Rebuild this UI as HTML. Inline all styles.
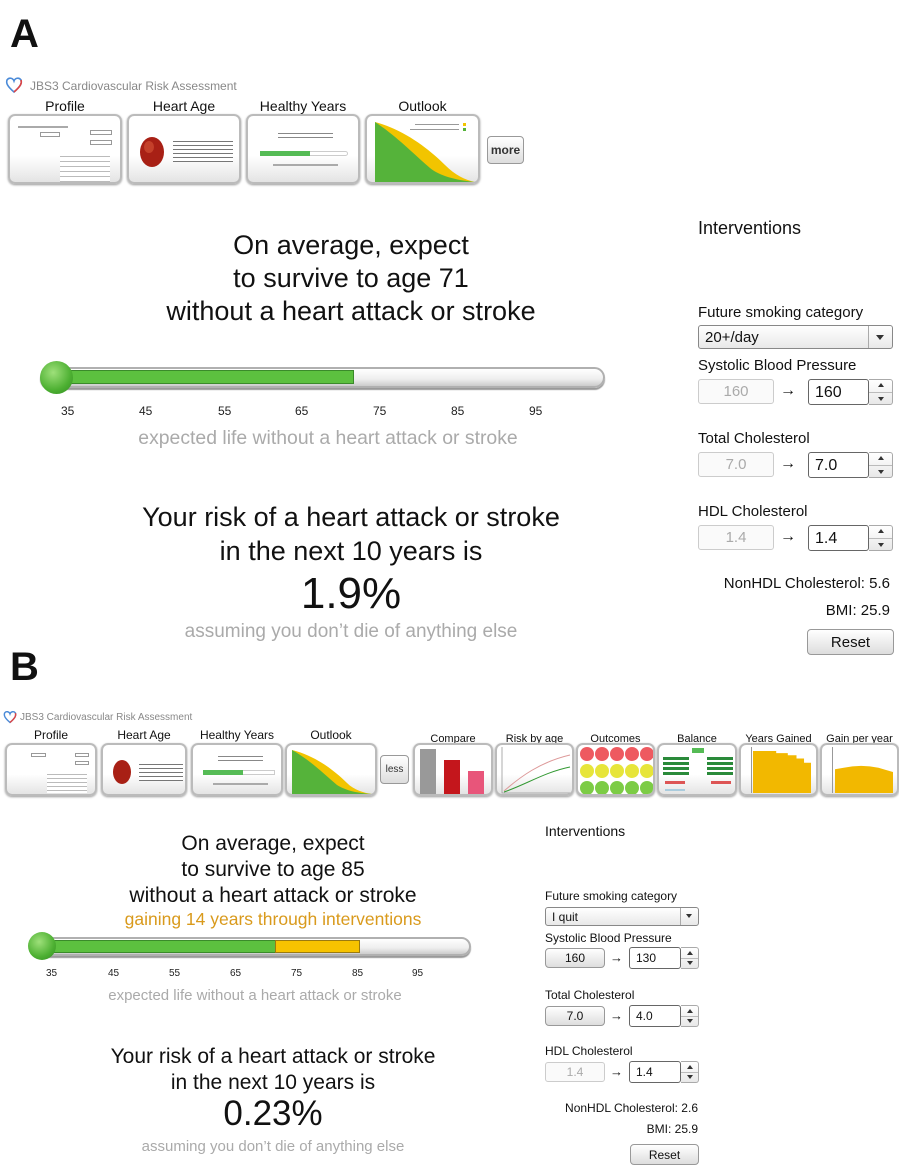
<!DOCTYPE html>
<html><head><meta charset="utf-8">
<style>
*{margin:0;padding:0;box-sizing:border-box}
body{width:899px;height:1166px;background:#fff;position:relative;overflow:hidden;font-family:"Liberation Sans",Arial,sans-serif;color:#111}
.a{position:absolute}
.c{position:absolute;text-align:center;white-space:nowrap;line-height:1}
.box{position:absolute;border:2px solid #bbb;border-radius:7px;background:linear-gradient(#fff 60%,#e4e4e4);box-shadow:0 1px 2px #999;overflow:hidden}
.in{position:absolute;border:1px solid #aaa;border-radius:3px;background:#fff;padding-left:6px}
.ghost{color:#aaa;text-align:center;padding:0;border-color:#ccc;background:#fafafa}
.btn{position:absolute;border:1px solid #999;border-radius:4px;background:linear-gradient(#fff,#ddd);text-align:center}
.spin{position:absolute;border:1px solid #aaa;border-left:none;border-radius:0 3px 3px 0;background:linear-gradient(#fff,#e8e8e8)}
.spin:after{content:"";position:absolute;left:0;right:0;top:50%;border-top:1px solid #bbb}
.spin i{position:absolute;left:50%;margin-left:-3px;border:3px solid transparent}
.spin i.u{top:3px;border-bottom:4px solid #333;border-top:none}
.spin i.d{bottom:3px;border-top:4px solid #333;border-bottom:none}
.tick{position:absolute;font-size:12px;color:#222}
</style></head><body>

<!-- ============ A ============ -->
<div class="a" style="left:10px;top:12px;font-size:40px;font-weight:bold">A</div>
<svg class="a" style="left:5px;top:76px" width="18" height="18" viewBox="0 0 18 18"><path d="M9 16 C2 10 1 7 2 4 C4 1 8 2 9 5 C10 2 14 1 16 4 C17 7 16 10 9 16Z" fill="none" stroke="#4a8ad8" stroke-width="1.6"/><path d="M9 16 C16 10 17 7 16 4" fill="none" stroke="#d44" stroke-width="1.6"/></svg>
<div class="a" style="left:30px;top:79px;font-size:12px;color:#888">JBS3 Cardiovascular Risk Assessment</div>

<div class="c" style="left:8px;width:114px;top:99px;font-size:14px">Profile</div>
<div class="c" style="left:127px;width:114px;top:99px;font-size:14px">Heart Age</div>
<div class="c" style="left:246px;width:114px;top:99px;font-size:14px">Healthy Years</div>
<div class="c" style="left:365px;width:115px;top:99px;font-size:14px">Outlook</div>

<div class="box" style="left:8px;top:114px;width:114px;height:70px">
 <div class="a" style="left:8px;top:10px;width:50px;height:2px;background:#aaa"></div>
 <div class="a" style="left:30px;top:16px;width:20px;height:5px;border:1px solid #999"></div>
 <div class="a" style="left:80px;top:14px;width:22px;height:5px;border:1px solid #999"></div>
 <div class="a" style="left:80px;top:24px;width:22px;height:5px;border:1px solid #999"></div>
 <div class="a" style="left:50px;top:36px;width:50px;height:30px;background:repeating-linear-gradient(#fff 0 4px,#bbb 4px 5px)"></div>
</div>
<div class="box" style="left:127px;top:114px;width:114px;height:70px">
 <svg class="a" style="left:8px;top:16px" width="30" height="38"><ellipse cx="15" cy="20" rx="12" ry="15" fill="#a82015"/><ellipse cx="12" cy="15" rx="5" ry="6" fill="#c4402a"/></svg>
 <div class="a" style="left:44px;top:22px;width:60px;height:24px;background:repeating-linear-gradient(#fff 0 3px,#777 3px 4px)"></div>
</div>
<div class="box" style="left:246px;top:114px;width:114px;height:70px">
 <div class="a" style="left:30px;top:14px;width:55px;height:10px;background:repeating-linear-gradient(#fff 0 3px,#888 3px 4px)"></div>
 <div class="a" style="left:12px;top:35px;width:88px;height:5px;border:1px solid #ccc;border-radius:3px"></div>
 <div class="a" style="left:12px;top:35px;width:50px;height:5px;background:#5b5"></div>
 <div class="a" style="left:25px;top:48px;width:65px;height:2px;background:#aaa"></div>
</div>
<div class="box" style="left:365px;top:114px;width:115px;height:70px">
 <svg class="a" style="left:8px;top:4px" width="100" height="62"><path d="M0 2 C30 10 55 30 70 45 C80 55 90 60 100 62 L0 62Z" fill="#f2c400"/><path d="M0 2 C20 15 40 35 55 48 C65 56 80 60 100 62 L0 62Z" fill="#55b33a"/><rect x="88" y="3" width="3" height="3" fill="#f2c400"/><rect x="88" y="8" width="3" height="3" fill="#55b33a"/><rect x="40" y="4" width="44" height="1" fill="#999"/><rect x="35" y="9" width="49" height="1" fill="#999"/></svg>
</div>
<div class="btn" style="left:487px;top:136px;width:37px;height:28px;font-size:12px;line-height:27px;font-weight:bold;color:#333">more</div>

<div class="c" style="left:101px;width:500px;top:232px;font-size:27px">On average, expect</div>
<div class="c" style="left:101px;width:500px;top:265px;font-size:27px">to survive to age 71</div>
<div class="c" style="left:101px;width:500px;top:298px;font-size:27px">without a heart attack or stroke</div>

<div class="a" style="left:40px;top:367px;width:565px;height:21px;border:2px solid #b0b0b0;border-radius:11px;background:linear-gradient(#fff,#eee 60%,#ccc);box-shadow:0 2px 1px #999"></div>
<div class="a" style="left:58px;top:370px;width:296px;height:14px;background:#5cc03f;border:1px solid #3a8a2a"></div>
<div class="a" style="left:40px;top:361px;width:33px;height:33px;border-radius:50%;background:radial-gradient(circle at 40% 35%,#9ee07a,#4db032 60%,#2f8a20)"></div>
<div class="tick" style="left:61px;top:404px">35</div>
<div class="tick" style="left:139px;top:404px">45</div>
<div class="tick" style="left:218px;top:404px">55</div>
<div class="tick" style="left:295px;top:404px">65</div>
<div class="tick" style="left:373px;top:404px">75</div>
<div class="tick" style="left:451px;top:404px">85</div>
<div class="tick" style="left:529px;top:404px">95</div>
<div class="c" style="left:78px;width:500px;top:429px;font-size:19.4px;color:#aaa">expected life without a heart attack or stroke</div>

<div class="c" style="left:101px;width:500px;top:504px;font-size:27px">Your risk of a heart attack or stroke</div>
<div class="c" style="left:101px;width:500px;top:538px;font-size:27px">in the next 10 years is</div>
<div class="c" style="left:101px;width:500px;top:572px;font-size:44px">1.9%</div>
<div class="c" style="left:101px;width:500px;top:622px;font-size:19px;color:#aaa">assuming you don’t die of anything else</div>

<div class="a" style="left:698px;top:218px;font-size:18px">Interventions</div>
<div class="a" style="left:698px;top:304px;font-size:15px">Future smoking category</div>
<div class="in" style="left:698px;top:325px;width:195px;height:24px;font-size:15px;line-height:23px;background:linear-gradient(#fff,#e8e8e8);border-color:#888">20+/day</div>
<div class="a" style="left:868px;top:326px;width:1px;height:22px;background:#aaa"></div>
<div class="a" style="left:876px;top:335px;border:4px solid transparent;border-top:5px solid #333"></div>

<div class="a" style="left:698px;top:357px;font-size:15px">Systolic Blood Pressure</div>
<div class="in ghost" style="left:698px;top:379px;width:76px;height:25px;font-size:15px;line-height:24px">160</div>
<div class="a" style="left:780px;top:382px;font-size:16px">→</div>
<div class="in" style="left:808px;top:379px;width:61px;height:26px;font-size:16px;line-height:25px;border-color:#666">160</div>
<div class="spin" style="left:869px;top:379px;width:24px;height:26px"><i class="u"></i><i class="d"></i></div>

<div class="a" style="left:698px;top:430px;font-size:15px">Total Cholesterol</div>
<div class="in ghost" style="left:698px;top:452px;width:76px;height:25px;font-size:15px;line-height:24px">7.0</div>
<div class="a" style="left:780px;top:455px;font-size:16px">→</div>
<div class="in" style="left:808px;top:452px;width:61px;height:26px;font-size:16px;line-height:25px;border-color:#666">7.0</div>
<div class="spin" style="left:869px;top:452px;width:24px;height:26px"><i class="u"></i><i class="d"></i></div>

<div class="a" style="left:698px;top:503px;font-size:15px">HDL Cholesterol</div>
<div class="in ghost" style="left:698px;top:525px;width:76px;height:25px;font-size:15px;line-height:24px">1.4</div>
<div class="a" style="left:780px;top:528px;font-size:16px">→</div>
<div class="in" style="left:808px;top:525px;width:61px;height:26px;font-size:16px;line-height:25px;border-color:#666">1.4</div>
<div class="spin" style="left:869px;top:525px;width:24px;height:26px"><i class="u"></i><i class="d"></i></div>

<div class="a" style="right:9px;top:575px;font-size:15px">NonHDL Cholesterol: 5.6</div>
<div class="a" style="right:9px;top:602px;font-size:15px">BMI: 25.9</div>
<div class="btn" style="left:807px;top:629px;width:87px;height:26px;font-size:15px;line-height:25px">Reset</div>

<!-- ============ B ============ -->
<div class="a" style="left:10px;top:645px;font-size:40px;font-weight:bold">B</div>
<svg class="a" style="left:3px;top:710px" width="14" height="14" viewBox="0 0 18 18"><path d="M9 16 C2 10 1 7 2 4 C4 1 8 2 9 5 C10 2 14 1 16 4 C17 7 16 10 9 16Z" fill="none" stroke="#4a8ad8" stroke-width="1.8"/><path d="M9 16 C16 10 17 7 16 4" fill="none" stroke="#d44" stroke-width="1.8"/></svg>
<div class="a" style="left:20px;top:712px;font-size:10px;color:#888">JBS3 Cardiovascular Risk Assessment</div>

<div class="c" style="left:5px;width:92px;top:729px;font-size:12px">Profile</div>
<div class="c" style="left:101px;width:86px;top:729px;font-size:12px">Heart Age</div>
<div class="c" style="left:191px;width:92px;top:729px;font-size:12px">Healthy Years</div>
<div class="c" style="left:285px;width:92px;top:729px;font-size:12px">Outlook</div>
<div class="c" style="left:413px;width:80px;top:734px;font-size:11px">Compare</div>
<div class="c" style="left:495px;width:79px;top:734px;font-size:11px">Risk by age</div>
<div class="c" style="left:576px;width:79px;top:734px;font-size:11px">Outcomes</div>
<div class="c" style="left:657px;width:80px;top:734px;font-size:11px">Balance</div>
<div class="c" style="left:739px;width:79px;top:734px;font-size:11px">Years Gained</div>
<div class="c" style="left:820px;width:79px;top:734px;font-size:11px">Gain per year</div>

<div class="box" style="left:5px;top:743px;width:92px;height:53px">
 <div class="a" style="left:24px;top:8px;width:15px;height:4px;border:1px solid #999"></div>
 <div class="a" style="left:68px;top:8px;width:14px;height:4px;border:1px solid #999"></div>
 <div class="a" style="left:68px;top:16px;width:14px;height:4px;border:1px solid #999"></div>
 <div class="a" style="left:40px;top:26px;width:40px;height:22px;background:repeating-linear-gradient(#fff 0 3px,#bbb 3px 4px)"></div>
</div>
<div class="box" style="left:101px;top:743px;width:86px;height:53px">
 <svg class="a" style="left:8px;top:13px" width="22" height="28"><ellipse cx="11" cy="14" rx="9" ry="12" fill="#a82015"/></svg>
 <div class="a" style="left:36px;top:16px;width:44px;height:20px;background:repeating-linear-gradient(#fff 0 3px,#777 3px 4px)"></div>
</div>
<div class="box" style="left:191px;top:743px;width:92px;height:53px">
 <div class="a" style="left:25px;top:8px;width:45px;height:10px;background:repeating-linear-gradient(#fff 0 3px,#888 3px 4px)"></div>
 <div class="a" style="left:10px;top:25px;width:72px;height:5px;border:1px solid #ccc"></div>
 <div class="a" style="left:10px;top:25px;width:40px;height:5px;background:#5b5"></div>
 <div class="a" style="left:20px;top:38px;width:55px;height:2px;background:#aaa"></div>
</div>
<div class="box" style="left:285px;top:743px;width:92px;height:53px">
 <svg class="a" style="left:5px;top:3px" width="80" height="46"><path d="M0 2 C25 8 45 25 55 35 C62 42 72 45 80 46 L0 46Z" fill="#f2c400"/><path d="M0 2 C18 12 32 26 45 37 C55 43 65 45 80 46 L0 46Z" fill="#55b33a"/></svg>
</div>
<div class="btn" style="left:380px;top:755px;width:29px;height:29px;font-size:10px;line-height:28px;color:#333">less</div>

<div class="box" style="left:413px;top:743px;width:80px;height:53px">
 <div class="a" style="left:5px;top:4px;width:16px;height:46px;background:#999"></div>
 <div class="a" style="left:29px;top:15px;width:16px;height:35px;background:#c4161c"></div>
 <div class="a" style="left:53px;top:26px;width:16px;height:24px;background:#e8557a"></div>
</div>
<div class="box" style="left:495px;top:743px;width:79px;height:53px">
 <svg class="a" style="left:3px;top:2px" width="72" height="48"><path d="M2 0 V46 H72" stroke="#999" fill="none" stroke-width=".8"/><path d="M4 44 C20 30 40 15 70 8" stroke="#d99" fill="none"/><path d="M4 45 C25 38 45 25 70 20" stroke="#393" fill="none"/></svg>
</div>
<div class="box" style="left:576px;top:743px;width:79px;height:53px;background:#fff">
 <svg class="a" style="left:1px;top:1px" width="76" height="50">
  <g fill="#ee5a60"><circle cx="8" cy="8" r="7"/><circle cx="23" cy="8" r="7"/><circle cx="38" cy="8" r="7"/><circle cx="53" cy="8" r="7"/><circle cx="68" cy="8" r="7"/></g>
  <g fill="#e7e53a"><circle cx="8" cy="25" r="7"/><circle cx="23" cy="25" r="7"/><circle cx="38" cy="25" r="7"/><circle cx="53" cy="25" r="7"/><circle cx="68" cy="25" r="7"/></g>
  <g fill="#7ccc45"><circle cx="8" cy="42" r="7"/><circle cx="23" cy="42" r="7"/><circle cx="38" cy="42" r="7"/><circle cx="53" cy="42" r="7"/><circle cx="68" cy="42" r="7"/></g>
 </svg>
</div>
<div class="box" style="left:657px;top:743px;width:80px;height:53px">
 <div class="a" style="left:33px;top:3px;width:12px;height:5px;background:#5b5"></div>
 <div class="a" style="left:4px;top:12px;width:26px;height:20px;background:repeating-linear-gradient(#2a8a3a 0 3px,#fff 3px 5px)"></div>
 <div class="a" style="left:48px;top:12px;width:26px;height:20px;background:repeating-linear-gradient(#2a8a3a 0 3px,#fff 3px 5px)"></div>
 <div class="a" style="left:6px;top:36px;width:20px;height:3px;background:#d55"></div>
 <div class="a" style="left:52px;top:36px;width:20px;height:3px;background:#d55"></div>
 <div class="a" style="left:6px;top:44px;width:20px;height:2px;background:#acd"></div>
</div>
<div class="box" style="left:739px;top:743px;width:79px;height:53px">
 <div class="a" style="left:10px;top:2px;width:1px;height:46px;background:#999"></div>
 <div class="a" style="left:12px;top:6px;width:58px;height:42px;background:#f2b800;clip-path:polygon(0 0,40% 0,40% 5%,60% 5%,60% 10%,75% 10%,75% 18%,88% 18%,88% 28%,100% 28%,100% 100%,0 100%)"></div>
</div>
<div class="box" style="left:820px;top:743px;width:79px;height:53px">
 <div class="a" style="left:10px;top:2px;width:1px;height:46px;background:#999"></div>
 <div class="a" style="left:13px;top:20px;width:58px;height:28px;background:#f2b800;clip-path:polygon(0 15%,15% 10%,30% 5%,45% 3%,60% 5%,75% 10%,88% 18%,100% 25%,100% 100%,0 100%)"></div>
</div>

<div class="c" style="left:73px;width:400px;top:833px;font-size:21px">On average, expect</div>
<div class="c" style="left:73px;width:400px;top:859px;font-size:21px">to survive to age 85</div>
<div class="c" style="left:73px;width:400px;top:885px;font-size:21px">without a heart attack or stroke</div>
<div class="c" style="left:73px;width:400px;top:911px;font-size:17.5px;color:#d99a1c">gaining 14 years through interventions</div>

<div class="a" style="left:32px;top:937px;width:439px;height:19px;border:2px solid #b0b0b0;border-radius:10px;background:linear-gradient(#fff,#eee 60%,#ccc);box-shadow:0 2px 1px #999"></div>
<div class="a" style="left:45px;top:940px;width:231px;height:13px;background:#5cc03f;border:1px solid #3a8a2a"></div>
<div class="a" style="left:275px;top:940px;width:85px;height:13px;background:#f7c300;border:1px solid #9a7a10"></div>
<div class="a" style="left:28px;top:932px;width:28px;height:28px;border-radius:50%;background:radial-gradient(circle at 40% 35%,#9ee07a,#4db032 60%,#2f8a20)"></div>
<div class="tick" style="left:46px;top:968px;font-size:10px">35</div>
<div class="tick" style="left:108px;top:968px;font-size:10px">45</div>
<div class="tick" style="left:169px;top:968px;font-size:10px">55</div>
<div class="tick" style="left:230px;top:968px;font-size:10px">65</div>
<div class="tick" style="left:291px;top:968px;font-size:10px">75</div>
<div class="tick" style="left:352px;top:968px;font-size:10px">85</div>
<div class="tick" style="left:412px;top:968px;font-size:10px">95</div>
<div class="c" style="left:105px;width:300px;top:988px;font-size:15px;color:#aaa">expected life without a heart attack or stroke</div>

<div class="c" style="left:73px;width:400px;top:1046px;font-size:21px">Your risk of a heart attack or stroke</div>
<div class="c" style="left:73px;width:400px;top:1072px;font-size:21px">in the next 10 years is</div>
<div class="c" style="left:73px;width:400px;top:1096px;font-size:35px">0.23%</div>
<div class="c" style="left:73px;width:400px;top:1139px;font-size:15px;color:#aaa">assuming you don’t die of anything else</div>

<div class="a" style="left:545px;top:823px;font-size:14px">Interventions</div>
<div class="a" style="left:545px;top:889px;font-size:12px">Future smoking category</div>
<div class="in" style="left:545px;top:907px;width:154px;height:19px;font-size:12px;line-height:18px;background:linear-gradient(#fff,#e8e8e8);border-color:#888">I quit</div>
<div class="a" style="left:680px;top:908px;width:1px;height:17px;background:#aaa"></div>
<div class="a" style="left:686px;top:914px;border:3px solid transparent;border-top:4px solid #333"></div>

<div class="a" style="left:545px;top:931px;font-size:12px">Systolic Blood Pressure</div>
<div class="btn" style="left:545px;top:948px;width:60px;height:20px;font-size:12px;line-height:19px">160</div>
<div class="a" style="left:610px;top:950px;font-size:13px">→</div>
<div class="in" style="left:629px;top:947px;width:52px;height:22px;font-size:12px;line-height:21px;border-color:#666">130</div>
<div class="spin" style="left:681px;top:947px;width:18px;height:22px"><i class="u"></i><i class="d"></i></div>

<div class="a" style="left:545px;top:988px;font-size:12px">Total Cholesterol</div>
<div class="btn" style="left:545px;top:1006px;width:60px;height:20px;font-size:12px;line-height:19px">7.0</div>
<div class="a" style="left:610px;top:1008px;font-size:13px">→</div>
<div class="in" style="left:629px;top:1005px;width:52px;height:22px;font-size:12px;line-height:21px;border-color:#666">4.0</div>
<div class="spin" style="left:681px;top:1005px;width:18px;height:22px"><i class="u"></i><i class="d"></i></div>

<div class="a" style="left:545px;top:1044px;font-size:12px">HDL Cholesterol</div>
<div class="in ghost" style="left:545px;top:1062px;width:60px;height:20px;font-size:12px;line-height:19px">1.4</div>
<div class="a" style="left:610px;top:1064px;font-size:13px">→</div>
<div class="in" style="left:629px;top:1061px;width:52px;height:22px;font-size:12px;line-height:21px;border-color:#666">1.4</div>
<div class="spin" style="left:681px;top:1061px;width:18px;height:22px"><i class="u"></i><i class="d"></i></div>

<div class="a" style="right:201px;top:1101px;font-size:12px">NonHDL Cholesterol: 2.6</div>
<div class="a" style="right:201px;top:1122px;font-size:12px">BMI: 25.9</div>
<div class="btn" style="left:630px;top:1144px;width:69px;height:21px;font-size:12px;line-height:20px">Reset</div>

</body></html>
